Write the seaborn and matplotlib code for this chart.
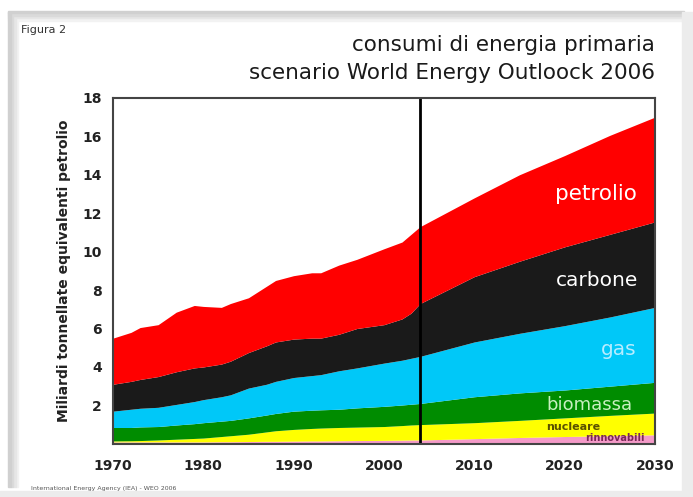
import numpy as np
import pandas as pd
import matplotlib.pyplot as plt
from matplotlib.patches import Rectangle
import seaborn as sns

years = [1970, 1972, 1973, 1975, 1977, 1979, 1980, 1982, 1983, 1985, 1987,
         1988, 1990, 1992, 1993, 1995, 1997, 2000, 2002, 2003, 2004, 2010,
         2015, 2020, 2025, 2030]

# Mtep x 1000 per source (stack order bottom -> top)
rinnovabili = [0.10, 0.10, 0.10, 0.10, 0.10, 0.10, 0.10, 0.11, 0.11, 0.12,
               0.13, 0.13, 0.14, 0.15, 0.15, 0.16, 0.17, 0.18, 0.19, 0.20,
               0.20, 0.27, 0.33, 0.38, 0.42, 0.47]
nucleare = [0.05, 0.06, 0.07, 0.10, 0.14, 0.18, 0.20, 0.27, 0.31, 0.38, 0.49,
            0.55, 0.61, 0.65, 0.67, 0.69, 0.70, 0.72, 0.76, 0.78, 0.80, 0.83,
            0.89, 0.97, 1.06, 1.13]
biomassa = [0.70, 0.69, 0.71, 0.70, 0.74, 0.77, 0.80, 0.80, 0.80, 0.85, 0.88,
            0.90, 0.95, 0.95, 0.95, 0.95, 1.00, 1.05, 1.07, 1.08, 1.10, 1.35,
            1.43, 1.45, 1.52, 1.60]
gas = [0.85, 0.95, 0.97, 1.00, 1.07, 1.15, 1.20, 1.27, 1.33, 1.55, 1.60,
       1.67, 1.75, 1.80, 1.83, 2.00, 2.08, 2.25, 2.33, 2.39, 2.45, 2.85,
       3.10, 3.35, 3.60, 3.90]
carbone = [1.40, 1.45, 1.50, 1.60, 1.70, 1.75, 1.70, 1.70, 1.75, 1.85, 2.00,
           2.05, 2.00, 1.95, 1.90, 1.90, 2.05, 2.00, 2.15, 2.35, 2.75, 3.40,
           3.75, 4.10, 4.30, 4.45]
petrolio = [2.40, 2.55, 2.70, 2.70, 3.10, 3.25, 3.15, 2.95, 3.00, 2.85, 3.10,
            3.20, 3.30, 3.40, 3.40, 3.60, 3.60, 3.95, 4.00, 4.10, 4.00, 4.10,
            4.50, 4.75, 5.15, 5.45]

sources = ['rinnovabili', 'nucleare', 'biomassa', 'gas', 'carbone', 'petrolio']
colors = ['#f49ac8', '#ffff00', '#008c00', '#00c8f8', '#1a1a1a', '#ff0000']

df = pd.DataFrame({'year': years, 'rinnovabili': rinnovabili,
                   'nucleare': nucleare, 'biomassa': biomassa, 'gas': gas,
                   'carbone': carbone, 'petrolio': petrolio})

sns.set_theme(style='white')
plt.rcParams['font.family'] = ['DejaVu Sans']

fig = plt.figure(figsize=(6.93, 4.97), dpi=100)
fig.patch.set_facecolor('white')

# soft grey frame around the card
shades = ['#f2f2f2', '#e6e6e6', '#dadada', '#d0d0d0']
for k, g in enumerate(shades):
    w = 0.0035
    fig.patches.append(Rectangle((0.026 - (k + 1) * w, 0.02), w, 0.955,
                                 transform=fig.transFigure,
                                 color=g, zorder=0))
    fig.patches.append(Rectangle((0.012, 0.958 + k * 0.005), 0.975,
                                 0.005, transform=fig.transFigure,
                                 color=g, zorder=0))
fig.patches.append(Rectangle((0.984, 0.0), 0.016, 0.975,
                             transform=fig.transFigure, color='#ececec',
                             zorder=0))
fig.patches.append(Rectangle((0.0, 0.0), 1.0, 0.012,
                             transform=fig.transFigure, color='#ececec',
                             zorder=0))

ax = fig.add_axes([0.163, 0.107, 0.782, 0.696])
ax.stackplot(df['year'], [df[s] for s in sources], colors=colors,
             linewidth=0)
ax.axvline(2004, color='black', lw=2)

ax.set_xlim(1970, 2030)
ax.set_ylim(0, 18)
ax.set_xticks(range(1970, 2031, 10))
ax.set_yticks(range(2, 19, 2))
ax.tick_params(axis='both', direction='out', length=5, width=1.5,
               color='#333333', labelsize=10, pad=3)
for lab in ax.get_xticklabels() + ax.get_yticklabels():
    lab.set_fontweight('bold')
    lab.set_color('#222222')
ax.tick_params(axis='x', pad=6)
for sp in ax.spines.values():
    sp.set_visible(True)
    sp.set_color('#444444')
    sp.set_linewidth(1.5)
ax.set_ylabel('Miliardi tonnellate equivalenti petrolio', fontsize=10,
              fontweight='bold', color='#222222', labelpad=8)

# series labels inside the areas
ax.text(2023.5, 13.0, 'petrolio', color='white', fontsize=15.5,
        ha='center', va='center')
ax.text(2023.6, 8.5, 'carbone', color='white', fontsize=14.5,
        ha='center', va='center')
ax.text(2026.0, 4.9, 'gas', color='#b8ecff', fontsize=14.5,
        ha='center', va='center')
ax.text(2022.8, 2.0, 'biomassa', color='#c8f0c0', fontsize=13,
        ha='center', va='center')
ax.text(2021.0, 0.9, 'nucleare', color='#5a5000', fontsize=8,
        fontweight='bold', ha='center', va='center')
ax.text(2025.6, 0.3, 'rinnovabili', color='#7a2858', fontsize=7,
        fontweight='bold', ha='center', va='center')

fig.text(0.945, 0.91, 'consumi di energia primaria', ha='right',
         va='center', fontsize=15.5, color='#1a1a1a')
fig.text(0.945, 0.853, 'scenario World Energy Outloock 2006', ha='right',
         va='center', fontsize=15.5, color='#1a1a1a')
fig.text(0.03, 0.94, 'Figura 2', fontsize=8, color='#333333',
         va='center')
fig.text(0.045, 0.018, 'International Energy Agency (IEA) - WEO 2006',
         fontsize=4.5, color='#555555', va='center')

fig.savefig('out.png', dpi=100)
